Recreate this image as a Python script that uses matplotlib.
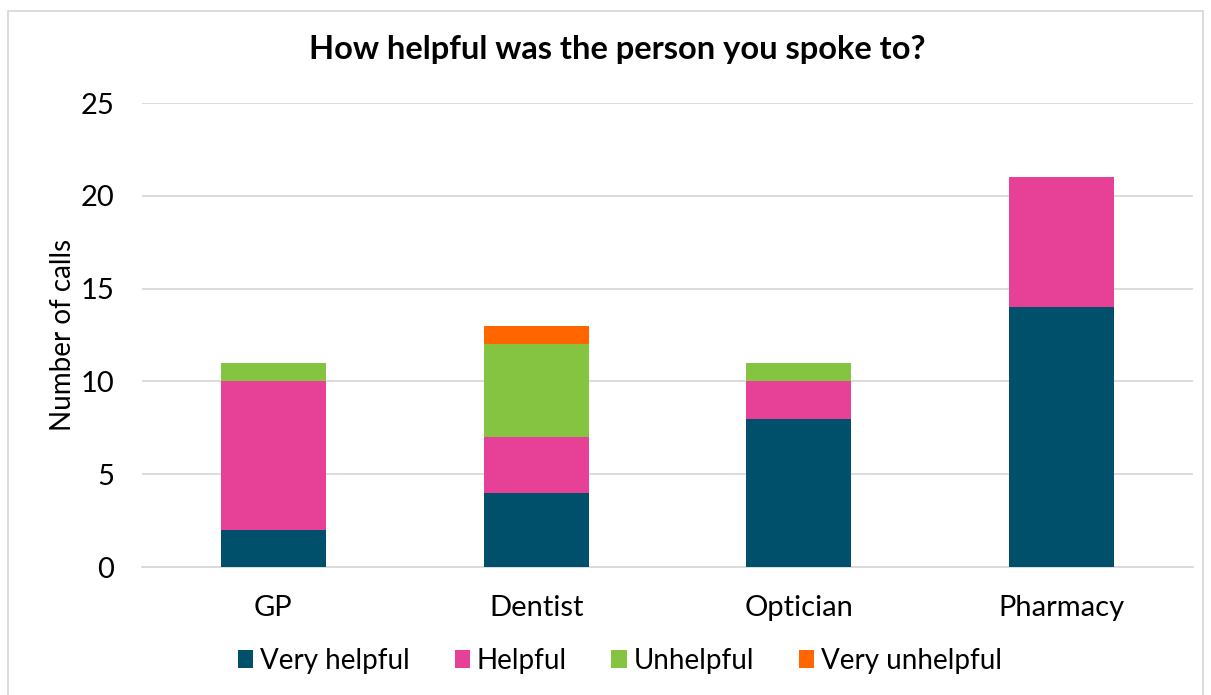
import numpy as np
import matplotlib.pyplot as plt
from matplotlib.patches import Rectangle

plt.rcParams['font.family'] = ['Lato', 'DejaVu Sans']

places = ['GP', 'Dentist', 'Optician', 'Pharmacy']
very_helpful = [2, 4, 8, 14]
helpful = [8, 3, 2, 7]
unhelpful = [1, 5, 1, 0]
very_unhelpful = [0, 1, 0, 0]
series_names = ['Very helpful', 'Helpful', 'Unhelpful', 'Very unhelpful']
colours = ['#00506B', '#E64097', '#84C441', '#FF6600']

fig = plt.figure(figsize=(12.11, 6.95), dpi=100)
ax = fig.add_axes([142/1211, 1-567/695, (1193-142)/1211, (567-103)/695])

x = np.arange(len(places))
bottom = np.zeros(len(places))
for vals, name, col in zip([very_helpful, helpful, unhelpful, very_unhelpful], series_names, colours):
    ax.bar(x, vals, width=0.4, bottom=bottom, color=col, label=name, zorder=3)
    bottom += np.array(vals)

ax.set_xlim(-0.5, 3.5)
ax.set_ylim(0, 25)
ax.set_yticks([0, 5, 10, 15, 20, 25])
ax.set_xticks(x)
ax.set_xticklabels(places)
ax.tick_params(axis='both', length=0, labelsize=21, colors='black')
ax.tick_params(axis='x', pad=20)
ax.tick_params(axis='y', pad=20)
ax.grid(axis='y', color='#D9D9D9', linewidth=1.3, zorder=0)
for s in ['top', 'right', 'left']:
    ax.spines[s].set_visible(False)
ax.spines['bottom'].set_color('#D9D9D9')
ax.spines['bottom'].set_linewidth(1.3)
ax.set_ylabel('Number of calls', fontsize=20, labelpad=3)

fig.text(617/1211, 1-50/695, 'How helpful was the person you spoke to?',
         ha='center', va='center', fontsize=23.5, fontweight='bold')

fig.legend(loc='center', bbox_to_anchor=(620/1211, 1-661/695), ncol=4, frameon=False,
           fontsize=20, handlelength=0.55, handleheight=0.6, handletextpad=0.25, columnspacing=1.6)

fig.patches.append(Rectangle((8/1211, -0.01), (1203-8)/1211, 1-11/695+0.01,
                             transform=fig.transFigure, fill=False, edgecolor='#D9D9D9', linewidth=1.3))

fig.savefig('out.png', dpi=100)
